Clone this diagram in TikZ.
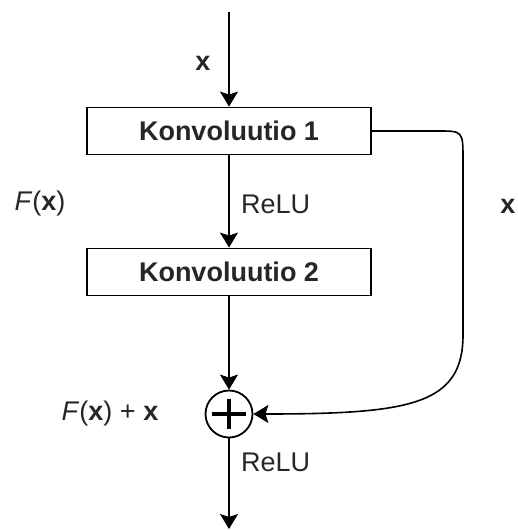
\documentclass[tikz,border=0pt]{standalone}
\usepackage{fontspec}
\setmainfont{Liberation Sans}
\usetikzlibrary{arrows.meta}
\begin{document}
\begin{tikzpicture}[x=1pt,y=-1pt,
  txt/.style={text=black!85, font=\fontsize{27}{30}\selectfont, inner sep=0pt},
  box/.style={draw, line width=1.8pt, minimum width=284pt, minimum height=47pt, inner sep=0pt, font=\fontsize{27}{30}\selectfont\bfseries, text=black!85},
  con/.style={line width=1.6pt, -{Stealth[length=15pt,width=18pt,inset=3pt]}},
  sumnode/.style={draw, circle, line width=1.8pt, minimum size=47pt, inner sep=0pt}]
\useasboundingbox (0,0) rectangle (518,530);
\coordinate (top) at (229,12);
\node[box] (k1) at (229,131) {Konvoluutio 1};
\node[box] (k2) at (229,272) {Konvoluutio 2};
\node[sumnode] (s) at (229,414) {};
\draw[line width=4pt] ([xshift=-17pt]s.center) -- ([xshift=17pt]s.center);
\draw[line width=4pt] ([yshift=-15pt]s.center) -- ([yshift=15pt]s.center);
\coordinate (out) at (229,529);
\draw[con] (top) -- (k1.north);
\draw[con] (k1.south) -- (k2.north);
\draw[con] (k2.south) -- (s.north);
\draw[con] (s.south) -- (out);
\draw[con] (k1.east) -- (438,131) .. controls (463,131) .. (463,160) -- (463,335) .. controls (463,405) and (410,414) .. (s.east);
\node[txt] (lx) at (203,63) {\bfseries x};
\node[txt] (lf) at (40,204) {\textit{F}(\textbf{x})};
\node[txt] (lr) at (508,206) {\bfseries x};
\node[txt, anchor=west] (relu1) at (241,204) {ReLU};
\node[txt, anchor=west] (relu2) at (241,462) {ReLU};
\node[txt] (lfx) at (110,414) {\textit{F}(\textbf{x}) + \textbf{x}};
\end{tikzpicture}
\end{document}
